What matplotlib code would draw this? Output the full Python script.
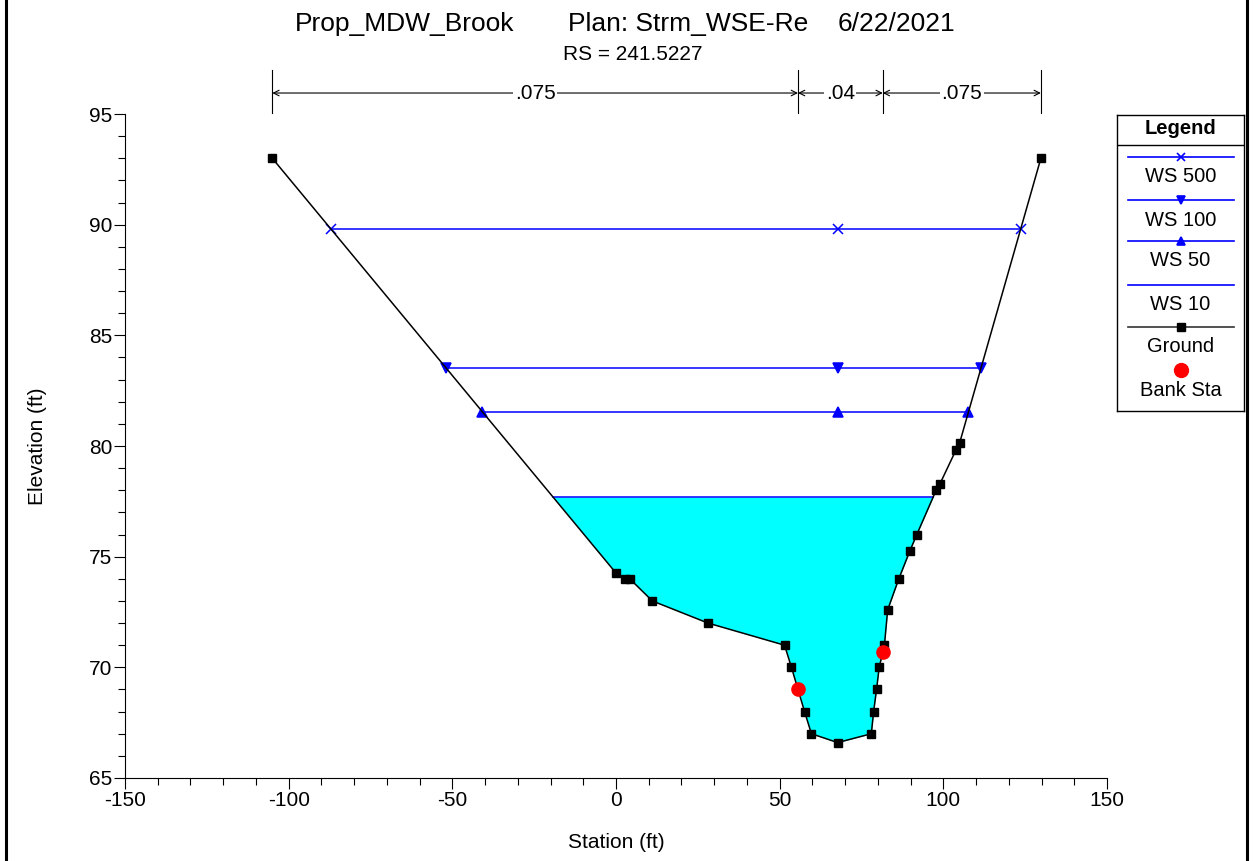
import numpy as np
import matplotlib.pyplot as plt
from matplotlib.lines import Line2D
from matplotlib.transforms import blended_transform_factory

plt.rcParams["font.family"] = ["Liberation Sans", "DejaVu Sans"]
plt.rcParams["axes.unicode_minus"] = False

# ground profile (station ft, elevation ft)
ground_sta = [-105.0, 0.0, 2.6, 4.2, 11.1, 28.1, 51.5, 53.6, 57.6, 59.7, 67.7,
              78.0, 78.7, 79.6, 80.4, 82.0, 83.0, 86.4, 89.8, 91.9, 97.8, 99.0,
              103.8, 105.0, 129.8]
ground_elev = [93.0, 74.26, 74.0, 74.0, 73.0, 72.0, 71.0, 70.0, 68.0, 67.0, 66.6,
               67.0, 68.0, 69.0, 70.0, 71.0, 72.6, 74.0, 75.27, 76.0, 78.0, 78.3,
               79.8, 80.15, 93.0]

bank_sta = [55.6, 81.5]
bank_elev = [69.0, 70.7]

ws_names = ["WS 500", "WS 100", "WS 50", "WS 10"]
ws_elev = [89.81, 83.53, 81.54, 77.70]
ws_markers = ["x", "v", "^", None]

mannings_n = [".075", ".04", ".075"]

title_parts = ["Prop_MDW_Brook", "Plan: Strm_WSE-Re", "6/22/2021"]
subtitle = "RS = 241.5227"

gx = np.array(ground_sta)
gy = np.array(ground_elev)
i_low = int(np.argmin(gy))


def ws_extent(elev):
    # left side: elevation falls with station; right side: rises
    xl = np.interp(elev, gy[:i_low + 1][::-1], gx[:i_low + 1][::-1])
    xr = np.interp(elev, gy[i_low:], gx[i_low:])
    return xl, xr


fig = plt.figure(figsize=(12.55, 8.61), dpi=100)
ax = fig.add_axes([125 / 1255, 1 - 778 / 861, 982 / 1255, 664 / 861])

# water surface for the lowest profile, filled
xl10, xr10 = ws_extent(ws_elev[3])
inside = (gx > xl10) & (gx < xr10)
fx = np.concatenate([[xl10], gx[inside], [xr10]])
fy = np.concatenate([[ws_elev[3]], gy[inside], [ws_elev[3]]])
ax.fill_between(fx, fy, ws_elev[3], color="#00ffff", lw=0, zorder=1)

for name, elev, mk in zip(ws_names, ws_elev, ws_markers):
    xl, xr = ws_extent(elev)
    ax.plot([xl, xr], [elev, elev], color="#0000ff", lw=1.1, zorder=2)
    if mk is not None:
        ax.plot([xl, gx[i_low], xr], [elev] * 3, ls="none", marker=mk,
                color="#0000ff", ms=7, mew=1.1, zorder=3)

ax.plot(gx, gy, color="black", lw=1.1, marker="s", ms=6, zorder=4)
ax.plot(bank_sta, bank_elev, ls="none", marker="o", color="#ff0000",
        ms=9.5, zorder=5)

ax.set_xlim(-150, 150)
ax.set_ylim(65, 95)
ax.set_xticks(np.arange(-150, 151, 50))
ax.set_xticks(np.arange(-150, 151, 10), minor=True)
ax.set_yticks(np.arange(65, 96, 5))
ax.set_yticks(np.arange(65, 96, 1), minor=True)
for s in ["top", "right"]:
    ax.spines[s].set_visible(False)
ax.tick_params(which="major", length=8, width=0.8, labelsize=15, pad=1)
ax.tick_params(which="minor", length=5, width=0.8)
ax.set_xlabel("Station (ft)", fontsize=15, labelpad=17)
ax.set_ylabel("Elevation (ft)", fontsize=15, labelpad=30)

# Manning's n dimension lines above the plot
trans = blended_transform_factory(ax.transData, ax.transAxes)
breaks = [gx[0], bank_sta[0], bank_sta[1], gx[-1]]
for b in breaks:
    ax.plot([b, b], [1.0015, 1.066], transform=trans, color="black",
            lw=0.8, clip_on=False)
y_dim = 1.0316
for (a, b), n in zip(zip(breaks[:-1], breaks[1:]), mannings_n):
    ax.annotate("", xy=(a, y_dim), xytext=(b, y_dim), xycoords=trans,
                textcoords=trans,
                arrowprops=dict(arrowstyle="<->", color="black", lw=0.8,
                                shrinkA=0, shrinkB=0))
    ax.text((a + b) / 2, y_dim, n, transform=trans, ha="center", va="center",
            fontsize=15, bbox=dict(facecolor="white", edgecolor="none", pad=1))

# titles
for part, xc in zip(title_parts, [405, 688, 896]):
    fig.text(xc / 1255, 1 - 24 / 861, part, ha="center", va="center",
             fontsize=19)
fig.text(633 / 1255, 1 - 55 / 861, subtitle, ha="center", va="center",
         fontsize=15)

# legend panel
lg = fig.add_axes([1117 / 1255, 1 - 411 / 861, 127 / 1255, 296 / 861])
lg.set_xlim(0, 127)
lg.set_ylim(296, 0)
lg.set_xticks([])
lg.set_yticks([])
for s in lg.spines.values():
    s.set_linewidth(1.0)
lg.text(63.5, 13, "Legend", ha="center", va="center", fontsize=14.5,
        fontweight="bold")
lg.plot([0, 127], [30, 30], color="black", lw=1.0)
entries = [("WS 500", "#0000ff", "x"), ("WS 100", "#0000ff", "v"),
           ("WS 50", "#0000ff", "^"), ("WS 10", "#0000ff", None),
           ("Ground", "#333333", "s"), ("Bank Sta", None, "o")]
line_y = [42, 85, 126, 170, 212, 255]
for (label, col, mk), y in zip(entries, line_y):
    if col is not None:
        lg.plot([11, 117], [y, y], color=col, lw=1.2)
    if mk == "s":
        lg.plot([63.5], [y], marker="s", color="black", ms=5.5, ls="none")
    elif mk == "o":
        lg.plot([63.5], [y], marker="o", color="#ff0000", ms=10, ls="none")
    elif mk is not None:
        lg.plot([63.5], [y], marker=mk, color="#0000ff", ms=6, mew=1.2,
                ls="none")
    lg.text(63.5, y + 20, label, ha="center", va="center", fontsize=14.5)

# outer frame edges
for xe in [6 / 1255, 1247 / 1255]:
    fig.add_artist(Line2D([xe, xe], [0, 1], color="black", lw=2.2,
                          transform=fig.transFigure))

fig.savefig("out.png", dpi=100)
